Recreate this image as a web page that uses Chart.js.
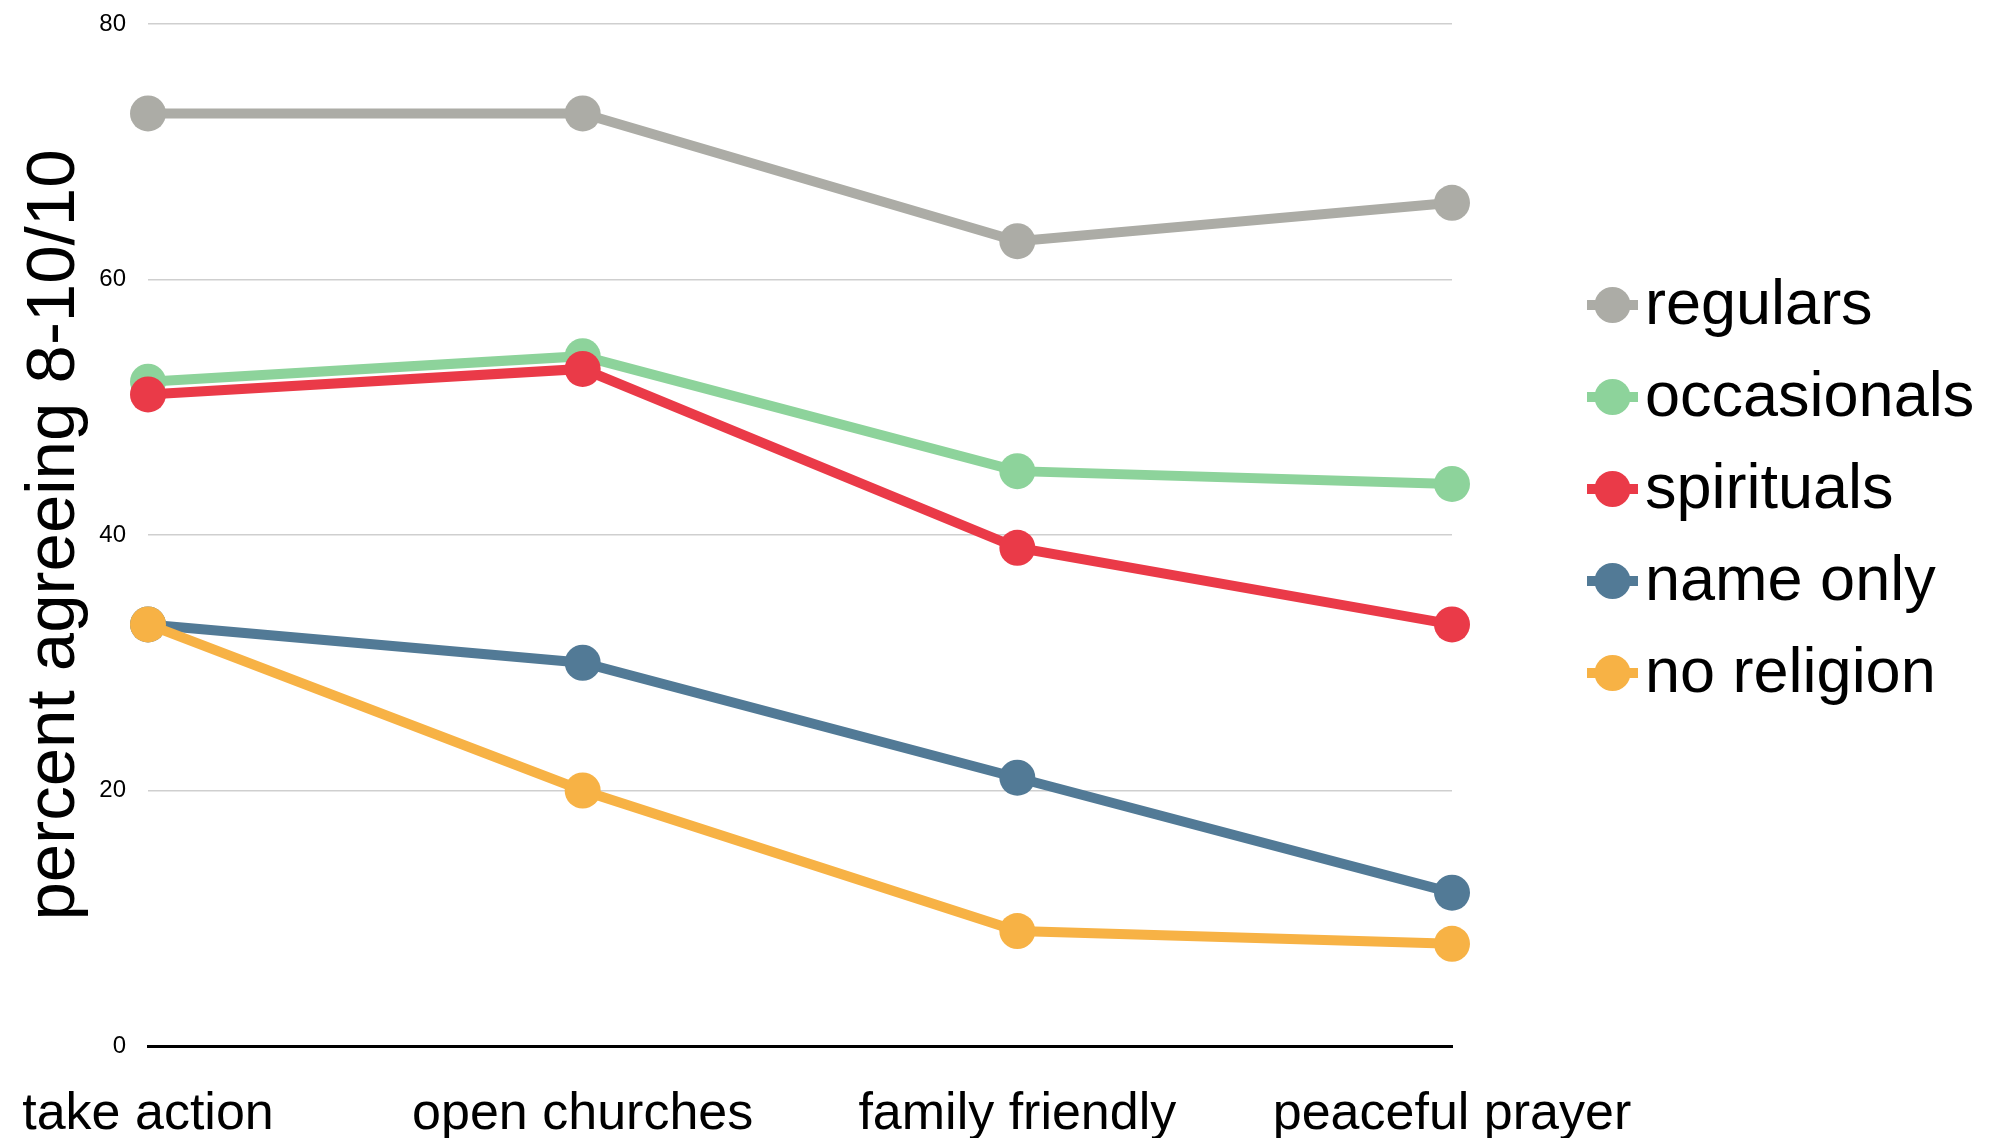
<!DOCTYPE html>
<html>
<head>
<meta charset="utf-8">
<script src="https://cdn.jsdelivr.net/npm/chart.js@4/dist/chart.umd.min.js"></script>
<style>
  html, body { margin: 0; padding: 0; background: #fff; }
  #wrap { width: 1989px; height: 1138px; position: relative; }
</style>
</head>
<body>
<div id="wrap"><canvas id="lineChart"></canvas></div>
<script>
const categories = ['take action', 'open churches', 'family friendly', 'peaceful prayer'];
const seriesNames = ['regulars', 'occasionals', 'spirituals', 'name only', 'no religion'];
const regulars = [73, 73, 63, 66];
const occasionals = [52, 54, 45, 44];
const spirituals = [51, 53, 39, 33];
const nameOnly = [33, 30, 21, 12];
const noReligion = [33, 20, 9, 8];
const yTicks = [0, 20, 40, 60, 80];
const colours = ['#acaca6', '#8dd39b', '#ea3a48', '#527a96', '#f7b245'];

const FONT = '"Liberation Sans", Arial, Helvetica, sans-serif';
const values = [regulars, occasionals, spirituals, nameOnly, noReligion];

// legend drawn by hand: line + dot marker, big text, centred a bit above the plot middle
const sideLegend = {
  id: 'sideLegend',
  afterDraw(chart) {
    const ctx = chart.ctx;
    const area = chart.chartArea;
    const x0 = area.right + 135;
    const rowGap = 92;
    const midY = (area.top + area.bottom) / 2 - 46;
    ctx.save();
    chart.data.datasets.forEach((ds, i) => {
      const y = midY + (i - 2) * rowGap;
      ctx.strokeStyle = ds.borderColor;
      ctx.lineWidth = 10;
      ctx.beginPath();
      ctx.moveTo(x0, y);
      ctx.lineTo(x0 + 51, y);
      ctx.stroke();
      ctx.fillStyle = ds.borderColor;
      ctx.beginPath();
      ctx.arc(x0 + 25.5, y, 18, 0, Math.PI * 2);
      ctx.fill();
      ctx.fillStyle = '#000';
      ctx.font = '63px ' + FONT;
      ctx.textBaseline = 'middle';
      ctx.textAlign = 'left';
      ctx.fillText(ds.label, x0 + 58, y + 2);
    });
    ctx.restore();
  }
};

const datasets = seriesNames.map((name, i) => ({
  label: name,
  data: values[i],
  borderColor: colours[i],
  backgroundColor: colours[i],
  borderWidth: 10,
  pointRadius: 18,
  pointHoverRadius: 18,
  pointBorderWidth: 0,
  tension: 0,
  order: seriesNames.length - i // later series on top
}));

new Chart(document.getElementById('lineChart'), {
  type: 'line',
  data: { labels: categories, datasets: datasets },
  plugins: [sideLegend],
  options: {
    responsive: true,
    maintainAspectRatio: false,
    animation: false,
    layout: { padding: { top: 24, right: 537, left: 0, bottom: 0 } },
    plugins: {
      legend: { display: false },
      tooltip: { enabled: false }
    },
    scales: {
      x: {
        offset: false,
        grid: { display: false, drawTicks: false },
        border: { display: true, color: '#000', width: 3 },
        ticks: {
          color: '#000',
          font: { family: FONT, size: 52 },
          padding: 37,
          maxRotation: 0,
          autoSkip: false
        },
        afterFit(scale) {
          scale.height = 92;
          // labels may hang past the plot edges, don't let them squeeze it
          scale.paddingLeft = 0;
          scale.paddingRight = 0;
        }
      },
      y: {
        min: 0,
        max: 80,
        afterBuildTicks(scale) { scale.ticks = yTicks.map(v => ({ value: v })); },
        grid: { color: '#cfcfcf', lineWidth: 1.5, drawTicks: false },
        border: { display: false },
        ticks: {
          color: '#000',
          font: { family: FONT, size: 24 },
          padding: 22
        },
        title: {
          display: true,
          text: 'percent agreeing 8-10/10',
          color: '#000',
          font: { family: FONT, size: 69 },
          padding: { top: 14, bottom: 0 }
        },
        afterFit(scale) {
          scale.width = 148;
          scale.paddingTop = 0;
          scale.paddingBottom = 0;
        }
      }
    }
  }
});
</script>
</body>
</html>
